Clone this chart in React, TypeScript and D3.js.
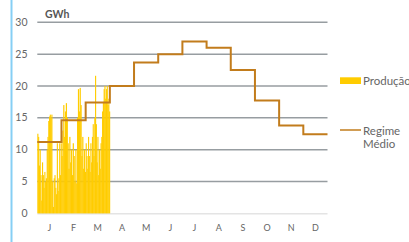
import React from 'react';
import * as d3 from 'd3';

// meses
const months = ['J', 'F', 'M', 'A', 'M', 'J', 'J', 'A', 'S', 'O', 'N', 'D'];

// regime médio mensal (GWh)
const regimeMedio = [11.2, 14.6, 17.4, 20.0, 23.7, 25.0, 27.0, 26.0, 22.5, 17.7, 13.8, 12.4];

// produção diária (GWh), jan-mar
const producaoJan = [
  12.5, 12.0, 7.5, 10, 6, 2, 8, 6, 4, 6.5, 5, 5.5, 10, 12, 14.5, 15.2,
  15.5, 15, 15.5, 5, 1, 5.5, 6, 4, 3, 11, 3.5, 5.5, 11, 6, 11,
];
const producaoFev = [
  9, 13, 17, 12, 16, 17.3, 15, 11, 7, 12, 8, 10, 6, 11, 9, 5, 10, 4.7,
  15, 19.5, 16, 19.7, 17, 9, 12, 7, 10, 6.5,
];
const producaoMar = [
  11, 9, 7, 12, 9, 6.5, 11, 8, 12, 14, 9, 15, 21.6, 14, 8, 12, 6, 10, 7,
  11, 12, 16, 17.5, 19.5, 20, 18, 19.5, 20, 17, 18, 16,
];
const producao = [producaoJan, producaoFev, producaoMar];

const yTicks = [0, 5, 10, 15, 20, 25, 30];

const App = () => {
  const width = 409;
  const height = 242;
  const yellow = '#ffcc00';
  const brown = '#c27c1c';
  const grid = '#979da1';
  const textColor = '#666';
  const font = 'Lato, "Open Sans", sans-serif';
  const margin = { top: 22.3, right: 81.5, bottom: 28.7, left: 37.3 };

  const xScale = d3
    .scaleBand()
    .domain(months.map((m, i) => `${i}`))
    .range([margin.left, width - margin.right])
    .padding(0);

  const yScale = d3
    .scaleLinear()
    .domain([0, 30])
    .range([height - margin.bottom, margin.top]);

  const bw = xScale.bandwidth();

  const stepPoints: [number, number][] = regimeMedio.map((v, i) => [
    xScale(`${i}`) as number,
    yScale(v),
  ]);
  stepPoints.push([width - margin.right, yScale(regimeMedio[regimeMedio.length - 1])]);

  const stepLine = d3.line().curve(d3.curveStepAfter)(stepPoints);

  return (
    <svg
      width={width}
      height={height}
      viewBox={`0 0 ${width} ${height}`}
      style={{ position: 'absolute', left: 0, top: 0, background: '#fff' }}
    >
      <line x1={11.5} x2={11.5} y1={0} y2={height} stroke='#86cff4' strokeWidth='2' />

      {yTicks.map(t => (
        <g key={`tick-${t}`}>
          {t > 0 && (
            <line
              x1={margin.left}
              x2={width - margin.right}
              y1={yScale(t)}
              y2={yScale(t)}
              stroke={grid}
              strokeWidth='1.5'
            />
          )}
          <text
            x={27.5}
            y={yScale(t)}
            dy='0.35em'
            textAnchor='end'
            fontSize='10.5'
            fontFamily={font}
            fill={textColor}
          >
            {t}
          </text>
        </g>
      ))}
      <line
        x1={margin.left}
        x2={width - margin.right}
        y1={yScale(0) + 0.5}
        y2={yScale(0) + 0.5}
        stroke='#e4e4e4'
        strokeWidth='1.5'
      />

      <text x={45} y={18} fontSize='10.5' fontWeight='bold' fontFamily={font} fill='#555'>
        GWh
      </text>

      {producao.map((days, m) =>
        days.map((v, i) => (
          <rect
            key={`prod-${m}-${i}`}
            x={(xScale(`${m}`) as number) + (bw * i) / days.length}
            width={bw / days.length + 0.35}
            y={yScale(v)}
            height={yScale(0) - yScale(v)}
            fill={yellow}
          />
        ))
      )}

      <path d={stepLine as string} fill='none' stroke={brown} strokeWidth='2' />

      {months.map((m, i) => (
        <text
          key={`month-${i}`}
          x={(xScale(`${i}`) as number) + bw / 2}
          y={231}
          textAnchor='middle'
          fontSize='9'
          fontFamily={font}
          fill={textColor}
        >
          {m}
        </text>
      ))}

      <rect x={340} y={77.3} width={21} height={6.7} fill={yellow} />
      <text x={363} y={84.5} fontSize='11.5' fontFamily={font} fill={textColor}>
        Produção
      </text>
      <line x1={340} x2={361} y1={130} y2={130} stroke={brown} strokeWidth='1.5' />
      <text x={363} y={134.5} fontSize='11.5' fontFamily={font} fill={textColor}>
        Regime
      </text>
      <text x={363} y={148} fontSize='11.5' fontFamily={font} fill={textColor}>
        Médio
      </text>
    </svg>
  );
};

export default App;
